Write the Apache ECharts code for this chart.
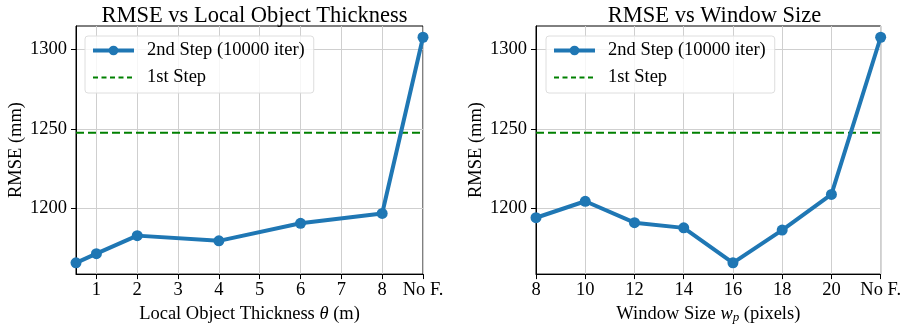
<!DOCTYPE html>
<html>
<head>
<meta charset="utf-8">
<script src="https://cdn.jsdelivr.net/npm/echarts@6/dist/echarts.min.js"></script>
<style>
html,body{margin:0;padding:0;background:#fff;}
#c{width:904px;height:329px;}
</style>
</head>
<body>
<div id="c"></div>
<script>
// ---- data ----
const thicknessX = [0.5, 1, 2, 4, 6, 8, 9];
const thicknessRMSE = [1165.3, 1171.1, 1182.5, 1179.2, 1190.3, 1196.5, 1307.8];
const thicknessTicks = [1, 2, 3, 4, 5, 6, 7, 8, 9];
const thicknessTickLabels = ['1', '2', '3', '4', '5', '6', '7', '8', 'No F.'];

const windowX = [8, 10, 12, 14, 16, 18, 20, 22];
const windowRMSE = [1193.8, 1204.2, 1190.7, 1187.4, 1165.3, 1186.0, 1208.5, 1307.8];
const windowTicks = [8, 10, 12, 14, 16, 18, 20, 22];
const windowTickLabels = ['8', '10', '12', '14', '16', '18', '20', 'No F.'];

const firstStepRMSE = 1247.5;
const yTicks = [1200, 1250, 1300];
const yTickLabels = ['1200', '1250', '1300'];

const titles = ['RMSE vs Local Object Thickness', 'RMSE vs Window Size'];
const seriesNames = ['2nd Step (10000 iter)', '1st Step'];
const yName = 'RMSE (mm)';

// ---- styling ----
const FONT = 'Liberation Serif';
const FS = 18.5;
const BLUE = '#1f77b4';
const GREEN = '#008000';
const yMin = 1158.2, yMax = 1314.9;

const grids = [
  {left: 76, top: 26, width: 347, height: 253},
  {left: 536, top: 26, width: 347, height: 253}
];

function zipXY(xs, ys) { return xs.map((x, i) => [x, ys[i]]); }

function xAxisFor(idx, ticks, labels, min, max, name, rich) {
  return {
    type: 'value', gridIndex: idx, min: min, max: max,
    name: name, nameLocation: 'middle', nameGap: 29,
    nameTextStyle: {fontFamily: FONT, fontSize: FS, color: '#000', rich: rich},
    axisLine: {show: true, onZero: false, lineStyle: {color: '#000', width: 1}},
    axisTick: {show: true, length: 5, lineStyle: {color: '#000'}, customValues: ticks},
    axisLabel: {
      customValues: ticks, margin: 7, fontFamily: FONT, fontSize: FS, color: '#000',
      formatter: v => { const i = ticks.indexOf(v); return i >= 0 ? labels[i] : ''; }
    },
    splitLine: {show: true, lineStyle: {color: '#cfcfcf', width: 1}}
  };
}

function yAxisFor(idx) {
  return {
    type: 'value', gridIndex: idx, min: yMin, max: yMax,
    name: yName, nameLocation: 'middle', nameGap: 44,
    nameTextStyle: {fontFamily: FONT, fontSize: FS, color: '#000'},
    axisLine: {show: true, lineStyle: {color: '#000', width: 1}},
    axisTick: {show: true, length: 5, lineStyle: {color: '#000'}, customValues: yTicks},
    axisLabel: {
      customValues: yTicks, margin: 9, fontFamily: FONT, fontSize: FS, color: '#000',
      formatter: v => { const i = yTicks.indexOf(v); return i >= 0 ? yTickLabels[i] : ''; }
    },
    splitLine: {show: true, lineStyle: {color: '#cfcfcf', width: 1}}
  };
}

const richTheta = {i: {fontFamily: FONT, fontSize: FS, fontStyle: 'italic', color: '#000'}};
const richW = {
  i: {fontFamily: FONT, fontSize: FS, fontStyle: 'italic', color: '#000'},
  sub: {fontFamily: FONT, fontSize: 13, fontStyle: 'italic', color: '#000', verticalAlign: 'bottom', padding: [6, 0, 0, 0]}
};

function mainSeries(idx, xs, ys) {
  return {
    name: seriesNames[0], type: 'line', xAxisIndex: idx, yAxisIndex: idx,
    data: zipXY(xs, ys), symbol: 'circle', symbolSize: 11,
    lineStyle: {color: BLUE, width: 4}, itemStyle: {color: BLUE},
    z: 3, animation: false
  };
}
function firstSeries(idx, xmin, xmax) {
  return {
    name: seriesNames[1], type: 'line', xAxisIndex: idx, yAxisIndex: idx,
    data: [[xmin, firstStepRMSE], [xmax, firstStepRMSE]], symbol: 'none',
    lineStyle: {color: GREEN, width: 2, type: [8, 4]}, itemStyle: {color: GREEN},
    z: 2, animation: false
  };
}

function legendFor(left) {
  return {
    left: left, top: 36, orient: 'vertical',
    data: [
      {name: seriesNames[0], lineStyle: {width: 4, color: BLUE}, itemStyle: {color: BLUE}},
      {name: seriesNames[1], lineStyle: {width: 2, color: GREEN, type: [5, 3.5]}, itemStyle: {opacity: 0}}
    ],
    itemWidth: 41, itemHeight: 12, itemGap: 8,
    padding: [5, 9, 6, 6],
    backgroundColor: 'rgba(255,255,255,0.8)',
    borderColor: '#dedede', borderWidth: 1, borderRadius: 3,
    textStyle: {fontFamily: FONT, fontSize: FS, color: '#000', padding: [0, 0, 0, 8]},
    selectedMode: false
  };
}

const chart = echarts.init(document.getElementById('c'), null, {renderer: 'canvas'});
chart.setOption({
  animation: false,
  backgroundColor: '#fff',
  title: [
    {text: titles[0], left: 249.5, top: 0, textAlign: 'center',
     textStyle: {fontFamily: FONT, fontSize: 22.5, fontWeight: 'normal', color: '#000'}},
    {text: titles[1], left: 709.5, top: 0, textAlign: 'center',
     textStyle: {fontFamily: FONT, fontSize: 22.5, fontWeight: 'normal', color: '#000'}}
  ],
  grid: grids.map(g => Object.assign({show: true, borderColor: '#000', borderWidth: 1, backgroundColor: 'transparent'}, g)),
  xAxis: [
    xAxisFor(0, thicknessTicks, thicknessTickLabels, 0.5, 9, 'Local Object Thickness {i|θ} (m)', richTheta),
    xAxisFor(1, windowTicks, windowTickLabels, 8, 22, 'Window Size {i|w}{sub|p} (pixels)', richW)
  ],
  yAxis: [yAxisFor(0), yAxisFor(1)],
  legend: [legendFor(85), legendFor(546)],
  series: [
    firstSeries(0, 0.5, 9),
    mainSeries(0, thicknessX, thicknessRMSE),
    firstSeries(1, 8, 22),
    mainSeries(1, windowX, windowRMSE)
  ]
});
</script>
</body>
</html>
